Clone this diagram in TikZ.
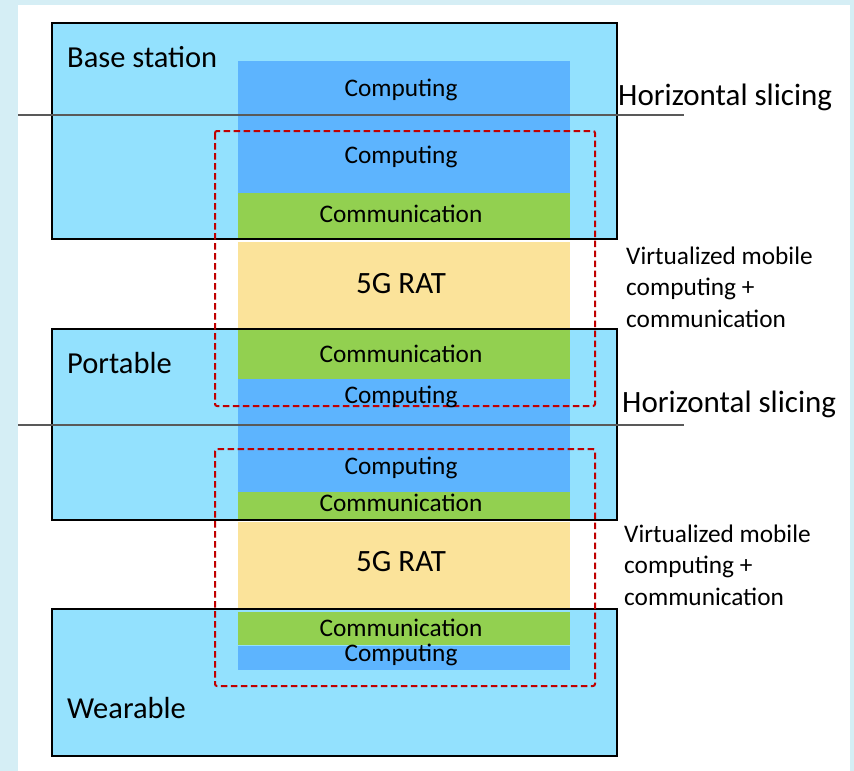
\documentclass[tikz,border=0pt]{standalone}
\usepackage{fontspec}
\setmainfont{Carlito}
\usetikzlibrary{positioning}
\definecolor{framebg}{HTML}{D5EEF5}
\definecolor{devblue}{HTML}{93E1FE}
\definecolor{compblue}{HTML}{5DB4FE}
\definecolor{commgreen}{HTML}{92D050}
\definecolor{ratyellow}{HTML}{FBE39A}
\definecolor{vmred}{HTML}{C00000}
\tikzset{
  devbox/.style={draw=black,line width=1.6pt},
  devlabel/.style={anchor=west,inner sep=0pt,font=\fontsize{30.5}{32}\selectfont},
  layerlabel/.style={inner sep=0pt,font=\fontsize{25.3}{27}\selectfont},
  ratlabel/.style={inner sep=0pt,font=\fontsize{31}{33}\selectfont},
  sliceline/.style={draw=black!65,line width=1.3pt},
  slicelabel/.style={anchor=west,inner sep=0pt,font=\fontsize{31}{33}\selectfont},
  vmbox/.style={draw=vmred,line width=2pt,dash pattern=on 6.5pt off 3.5pt,rounded corners=2pt},
  vmlabel/.style={anchor=west,inner sep=0pt,align=left,font=\fontsize{25.3}{31.5}\selectfont},
}
\begin{document}
\begin{tikzpicture}[x=1pt,y=-1pt]
  \useasboundingbox (0,0) rectangle (854,771);
  % ---- frame ----
  \fill[framebg] (0,0) rectangle (854,771);
  \fill[white] (18,5) rectangle (850,771);
  % ---- devices ----
  \fill[devblue] (52,23) rectangle (617,239);
  \fill[devblue] (52,329) rectangle (617,520);
  \fill[devblue] (52,609) rectangle (617,756);
  % ---- layer column ----
  \fill[compblue]  (238,61)  rectangle (570,193);
  \fill[commgreen] (238,193) rectangle (570,239);
  \fill[ratyellow] (238,242) rectangle (570,328);
  \fill[commgreen] (238,329) rectangle (570,379);
  \fill[compblue]  (238,379) rectangle (570,492);
  \fill[commgreen] (238,492) rectangle (570,520);
  \fill[ratyellow] (238,522) rectangle (570,608);
  \fill[commgreen] (238,612) rectangle (570,645);
  \fill[compblue]  (238,646) rectangle (570,670);
  \draw[devbox] (52,23) rectangle (617,239);
  \draw[devbox] (52,329) rectangle (617,520);
  \draw[devbox] (52,609) rectangle (617,756);
  % ---- horizontal slicing ----
  \coordinate (s1a) at (18,115);  \coordinate (s1b) at (684,115);
  \coordinate (s2a) at (18,425);  \coordinate (s2b) at (684,425);
  \draw[sliceline] (s1a) -- (s1b);
  \draw[sliceline] (s2a) -- (s2b);
  % ---- virtualized slices ----
  \draw[vmbox] (215,131) rectangle (595,406);
  \draw[vmbox] (215,449) rectangle (595,686);
  % ---- labels ----
  \node[devlabel] (bs) at (67,57) {Base station};
  \node[devlabel] (pt) at (67,363) {Portable};
  \node[devlabel] (wr) at (67,708) {Wearable};
  \node[slicelabel] (hs1) at (618,97) {Horizontal slicing};
  \node[slicelabel] (hs2) at (622,404) {Horizontal slicing};
  \node[vmlabel] (vm1) at (626,287) {Virtualized mobile\\computing +\\communication};
  \node[vmlabel] (vm2) at (624,565) {Virtualized mobile\\computing +\\communication};
  \node[layerlabel] (cp1) at (401,90)  {Computing};
  \node[layerlabel] (cp2) at (401,157) {Computing};
  \node[layerlabel] (cm1) at (401,214) {Communication};
  \node[ratlabel]   (rat1) at (401,284) {5G RAT};
  \node[layerlabel] (cm2) at (401,354) {Communication};
  \node[layerlabel] (cp3) at (401,397) {Computing};
  \node[layerlabel] (cp4) at (401,468) {Computing};
  \node[layerlabel] (cm3) at (401,503) {Communication};
  \node[ratlabel]   (rat2) at (401,562) {5G RAT};
  \node[layerlabel] (cm4) at (401,628) {Communication};
  \node[layerlabel] (cp5) at (401,655) {Computing};
\end{tikzpicture}
\end{document}
